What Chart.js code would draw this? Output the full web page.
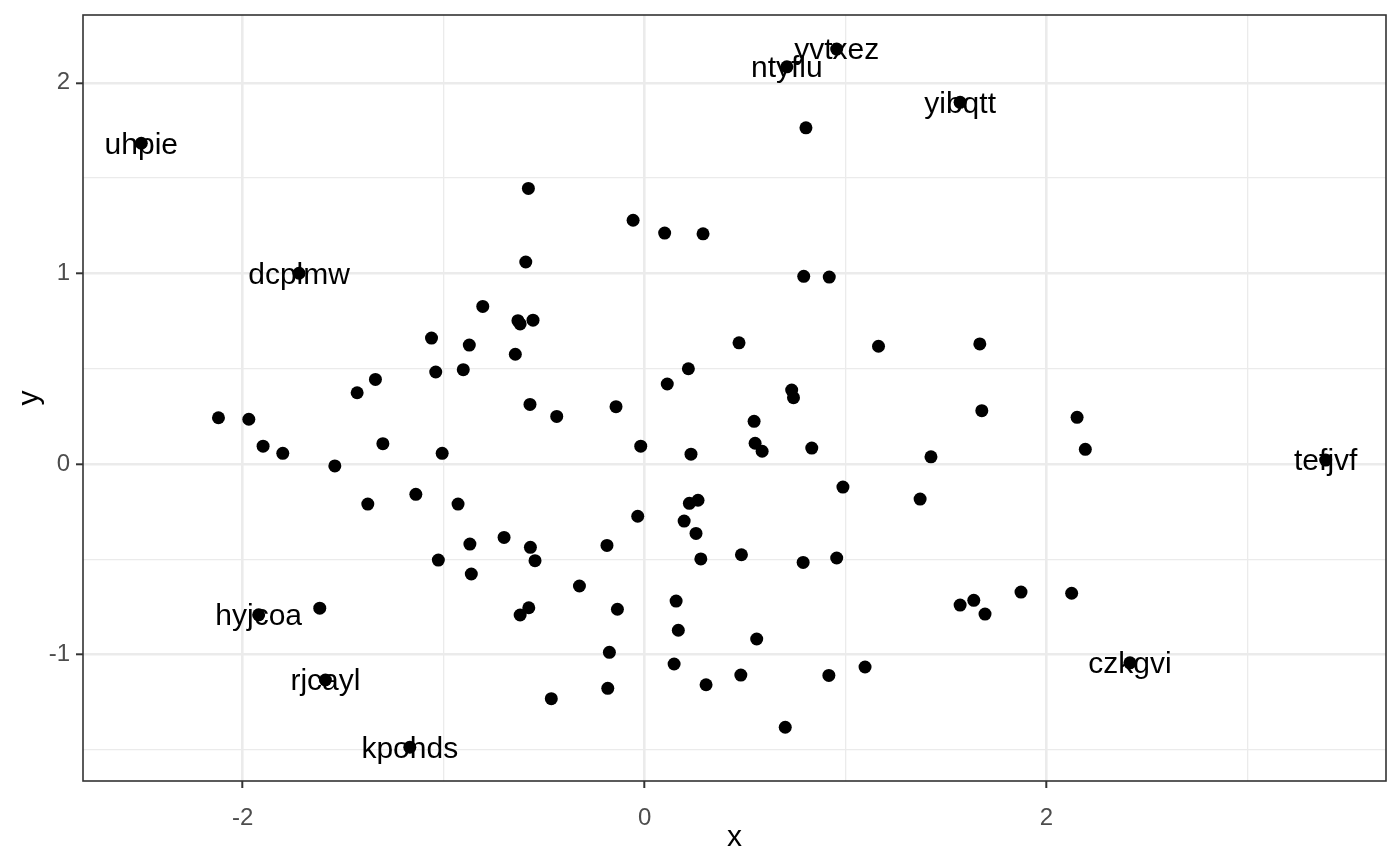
<!DOCTYPE html>
<html>
<head>
<meta charset="utf-8">
<script src="https://cdn.jsdelivr.net/npm/chart.js@4.4.1/dist/chart.umd.min.js"></script>
<style>
  html, body { margin: 0; padding: 0; background: #fff; }
  #wrap { width: 1400px; height: 866px; }
</style>
</head>
<body>
<div id="wrap"><canvas id="scatter"></canvas></div>
<script>
// values
const xs = [-2.504, -1.719, 0.708, 0.956, 1.570, 0.803, -0.578, -0.057, 0.100, 0.291,
  -0.591, 0.792, 0.919, -0.805, -0.630, -0.555, -0.619, -1.060, -0.872, -0.643,
  0.470, 1.164, 1.668, -1.039, -0.902, -1.339, -1.430, 0.218, 0.113, 0.732,
  0.741, -0.570, -0.142, -2.120, -1.969, -0.437, 1.678, 2.152, 0.545, -1.898,
  -1.800, -1.302, -1.007, -0.019, 0.231, 0.550, 0.585, 0.832, 1.425, 2.193,
  -1.541, 3.389, 0.987, -1.138, -1.377, -0.928, 1.371, 0.266, 0.223, -0.034,
  0.197, 0.256, -0.699, -0.869, -0.568, -0.187, 0.482, 0.956, -1.026, -0.545,
  0.280, 0.789, -0.862, -0.324, 1.873, 2.125, 1.570, 1.638, 1.694, -1.616,
  -1.920, 0.157, -0.576, -0.619, -0.135, 0.168, 0.558, -0.175, 2.415, 0.147,
  1.097, 0.479, 0.917, -1.588, 0.306, -0.183, -0.464, 0.700, -1.168];
const ys = [1.683, 1.001, 2.084, 2.177, 1.898, 1.764, 1.446, 1.279, 1.212, 1.208,
  1.060, 0.985, 0.981, 0.827, 0.752, 0.755, 0.735, 0.661, 0.624, 0.576,
  0.636, 0.618, 0.630, 0.483, 0.495, 0.444, 0.374, 0.500, 0.420, 0.388,
  0.348, 0.313, 0.301, 0.243, 0.235, 0.250, 0.280, 0.245, 0.224, 0.094,
  0.056, 0.107, 0.056, 0.094, 0.052, 0.109, 0.067, 0.084, 0.038, 0.077,
  -0.010, 0.021, -0.121, -0.159, -0.210, -0.210, -0.184, -0.190, -0.206, -0.274,
  -0.299, -0.364, -0.385, -0.420, -0.437, -0.427, -0.476, -0.493, -0.504, -0.507,
  -0.498, -0.516, -0.577, -0.640, -0.672, -0.678, -0.740, -0.715, -0.787, -0.756,
  -0.791, -0.719, -0.754, -0.792, -0.762, -0.872, -0.918, -0.988, -1.043, -1.049,
  -1.065, -1.107, -1.109, -1.133, -1.158, -1.177, -1.231, -1.381, -1.486];
const names = ['uhpie', 'dcplmw', 'ntyflu', 'yvtxez', 'yibqtt', '', '', '', '', '',
  '', '', '', '', '', '', '', '', '', '',
  '', '', '', '', '', '', '', '', '', '',
  '', '', '', '', '', '', '', '', '', '',
  '', '', '', '', '', '', '', '', '', '',
  '', 'tefjvf', '', '', '', '', '', '', '', '',
  '', '', '', '', '', '', '', '', '', '',
  '', '', '', '', '', '', '', '', '', '',
  'hyjcoa', '', '', '', '', '', '', '', 'czkgvi', '',
  '', '', '', 'rjcayl', '', '', '', '', 'kpohds'];

const xMajor = [-2, 0, 2];
const xMinor = [-1, 1, 3];
const yMajor = [-1, 0, 1, 2];
const yMinor = [-1.5, -0.5, 0.5, 1.5];
const xRange = [-2.794, 3.689];
const yRange = [-1.663, 2.356];

const FONT = "'Liberation Sans', Arial, sans-serif";

const points = xs.map((x, i) => ({ x: x, y: ys[i] }));

function tickSetup(major, minor) {
    return scale => {
        scale.ticks = major.concat(minor)
            .filter(v => v > scale.min && v < scale.max)
            .sort((a, b) => a - b)
            .map(v => ({ value: v }));
    };
}

function gridFor(major) {
    return {
        color: '#EBEBEB',
        lineWidth: ctx => major.includes(ctx.tick && ctx.tick.value) ? 2.6 : 1.3,
        tickLength: 7,
        tickWidth: 2,
        tickColor: ctx => major.includes(ctx.tick && ctx.tick.value) ? '#333333' : 'rgba(0,0,0,0)'
    };
}

// full panel border, like theme_bw
const panelBorder = {
    id: 'panelBorder',
    afterDraw(chart) {
        const a = chart.chartArea;
        const c = chart.ctx;
        c.save();
        c.strokeStyle = '#333333';
        c.lineWidth = 1.6;
        c.strokeRect(a.left, a.top, a.right - a.left, a.bottom - a.top);
        c.restore();
    }
};

// text labels centred on their points
const pointLabels = {
    id: 'pointLabels',
    afterDatasetsDraw(chart) {
        const meta = chart.getDatasetMeta(0);
        const c = chart.ctx;
        c.save();
        c.font = '30px ' + FONT;
        c.fillStyle = '#000000';
        c.textAlign = 'center';
        c.textBaseline = 'middle';
        meta.data.forEach((pt, i) => {
            if (names[i]) c.fillText(names[i], pt.x, pt.y + 2);
        });
        c.restore();
    }
};

new Chart(document.getElementById('scatter'), {
    type: 'scatter',
    data: {
        datasets: [{
            data: points,
            backgroundColor: '#000000',
            borderWidth: 0,
            pointRadius: 6.5,
            pointHoverRadius: 6.5
        }]
    },
    options: {
        responsive: true,
        maintainAspectRatio: false,
        animation: false,
        events: [],
        layout: { padding: { top: 15, right: 14, left: 0, bottom: 0 } },
        plugins: {
            legend: { display: false },
            tooltip: { enabled: false }
        },
        scales: {
            x: {
                type: 'linear',
                min: xRange[0],
                max: xRange[1],
                afterBuildTicks: tickSetup(xMajor, xMinor),
                afterFit: s => { s.height = 85; s.paddingLeft = 0; s.paddingRight = 0; },
                grid: gridFor(xMajor),
                border: { display: false },
                ticks: {
                    autoSkip: false,
                    maxRotation: 0,
                    padding: 16,
                    color: '#4D4D4D',
                    font: { family: FONT, size: 24 },
                    callback: v => xMajor.includes(v) ? String(v) : ''
                },
                title: {
                    display: true,
                    text: 'x',
                    color: '#000000',
                    font: { family: FONT, size: 30 },
                    padding: { top: 0, bottom: 10 }
                }
            },
            y: {
                type: 'linear',
                min: yRange[0],
                max: yRange[1],
                afterBuildTicks: tickSetup(yMajor, yMinor),
                afterFit: s => { s.width = 83; s.paddingTop = 0; s.paddingBottom = 0; },
                grid: gridFor(yMajor),
                border: { display: false },
                ticks: {
                    autoSkip: false,
                    padding: 6,
                    color: '#4D4D4D',
                    font: { family: FONT, size: 24 },
                    callback: v => yMajor.includes(v) ? String(v) : ''
                },
                title: {
                    display: true,
                    text: 'y',
                    color: '#000000',
                    font: { family: FONT, size: 30 },
                    padding: { top: 12, bottom: 0 }
                }
            }
        }
    },
    plugins: [panelBorder, pointLabels]
});
</script>
</body>
</html>
